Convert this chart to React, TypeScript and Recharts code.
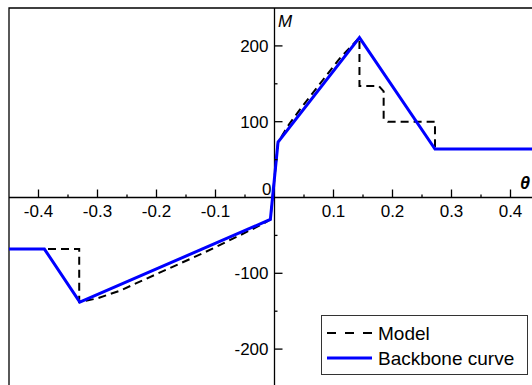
import React from 'react';
import { LineChart, Line, XAxis, YAxis, ReferenceLine, ReferenceArea, Legend } from 'recharts';

// Backbone curve (moment vs rotation)
const backboneTheta = [-0.45, -0.39, -0.33, -0.007, 0.006, 0.144, 0.272, 0.45];
const backboneM = [-68, -68, -138, -29, 73, 211, 64, 64];

// Model response
const modelTheta = [
  -0.45, -0.331, -0.331, -0.3, -0.262, -0.234, -0.18, -0.12, -0.059, -0.02, -0.007,
  0.006, 0.025, 0.045, 0.082, 0.11, 0.144, 0.144, 0.177, 0.185, 0.185, 0.192, 0.272, 0.272, 0.45,
];
const modelM = [
  -68, -68, -138, -133, -123, -113, -94, -73, -50, -35, -29,
  73, 97, 118, 155, 183, 211, 147, 147, 140, 104, 100, 100, 64, 64,
];

const seriesNames = ['Model', 'Backbone curve'];

const xTicks = [-0.4, -0.35, -0.3, -0.25, -0.2, -0.15, -0.1, -0.05, 0.05, 0.1, 0.15, 0.2, 0.25, 0.3, 0.35, 0.4];
const xLabels = ['-0.4', '-0.3', '-0.2', '-0.1', '0.1', '0.2', '0.3', '0.4'];
const yTicks = [-200, -150, -100, -50, 0, 50, 100, 150, 200];
const yLabels = ['-200', '-100', '0', '100', '200'];

const backboneData = backboneTheta.map((theta, i) => ({ theta, m: backboneM[i] }));
const modelData = modelTheta.map((theta, i) => ({ theta, m: modelM[i] }));

const W = 560;
const H = 400;
const AXIS_SIZE = 1;
const margin = { top: 8, right: 20, bottom: 12, left: 8 };
const plotW = W - margin.left - margin.right - AXIS_SIZE;
const plotH = H - margin.top - margin.bottom - AXIS_SIZE;
// axes cross at the origin, which sits in the middle of both domains
const zeroX = margin.left + AXIS_SIZE + plotW / 2;
const zeroY = margin.top + plotH / 2;

const FONT = '"Liberation Sans", Arial, sans-serif';

const XTick = (props: any) => {
  const { x, payload } = props;
  const v = payload.value;
  const label = xLabels.find((l) => Math.abs(parseFloat(l) - v) < 1e-6);
  return (
    <g>
      <line x1={x} x2={x} y1={zeroY} y2={zeroY - (label ? 8 : 3)} stroke="#000" strokeWidth={1.3} />
      {label && (
        <text x={x} y={zeroY + 19} textAnchor="middle" fontSize={17} fontFamily={FONT} fill="#000">
          {label}
        </text>
      )}
    </g>
  );
};

const YTick = (props: any) => {
  const { y, payload } = props;
  const v = payload.value;
  const label = yLabels.find((l) => parseFloat(l) === v);
  if (v === 0) {
    return (
      <text x={zeroX - 3} y={zeroY - 2.5} textAnchor="end" fontSize={17} fontFamily={FONT} fill="#000">
        0
      </text>
    );
  }
  return (
    <g>
      <line x1={zeroX} x2={zeroX + (label ? 8 : 3)} y1={y} y2={y} stroke="#000" strokeWidth={1.3} />
      {label && (
        <text x={zeroX - 6} y={y + 6} textAnchor="end" fontSize={17} fontFamily={FONT} fill="#000">
          {label}
        </text>
      )}
    </g>
  );
};

const renderLegend = (props: any) => {
  const items = [...(props.payload || [])].sort(
    (a: any, b: any) => seriesNames.indexOf(a.value) - seriesNames.indexOf(b.value)
  );
  return (
    <svg width={207} height={60} style={{ display: 'block' }}>
      <rect x={0.5} y={0.5} width={206} height={59} fill="#fff" stroke="#333" strokeWidth={1} />
      {items.map((entry: any, i: number) => {
        const cy = 18 + i * 25;
        const dashed = entry.payload && entry.payload.strokeDasharray;
        return (
          <g key={entry.value}>
            <line
              x1={6}
              x2={51}
              y1={cy}
              y2={cy}
              stroke={entry.color}
              strokeWidth={dashed ? 2 : 3}
              strokeDasharray={dashed ? '9 9' : undefined}
            />
            <text x={57} y={cy + 7} fontSize={19} fontFamily={FONT} fill="#000">
              {entry.value}
            </text>
          </g>
        );
      })}
    </svg>
  );
};

export default function App() {
  return (
    <div style={{ position: 'fixed', left: 0, top: 0, width: 532, height: 385, overflow: 'hidden', background: '#fff' }}>
      <LineChart width={W} height={H} margin={margin}>
        <XAxis
          type="number"
          dataKey="theta"
          domain={[-0.45, 0.45]}
          ticks={xTicks}
          interval={0}
          allowDataOverflow
          height={AXIS_SIZE}
          axisLine={false}
          tickLine={false}
          tick={<XTick />}
        />
        <YAxis
          type="number"
          dataKey="m"
          domain={[-250, 250]}
          ticks={yTicks}
          interval={0}
          allowDataOverflow
          width={AXIS_SIZE}
          axisLine={false}
          tickLine={false}
          tick={<YTick />}
        />
        <ReferenceArea x1={-0.45} x2={0.45} y1={-250} y2={250} fill="none" stroke="#000" strokeWidth={1.3} />
        <ReferenceLine y={0} stroke="#000" strokeWidth={1.3} />
        <ReferenceLine x={0} stroke="#000" strokeWidth={1.3} />
        <Line
          data={modelData}
          dataKey="m"
          name={seriesNames[0]}
          type="linear"
          stroke="#000"
          strokeWidth={2}
          strokeDasharray="8 5"
          dot={false}
          isAnimationActive={false}
        />
        <Line
          data={backboneData}
          dataKey="m"
          name={seriesNames[1]}
          type="linear"
          stroke="#0000ff"
          strokeWidth={3}
          dot={false}
          isAnimationActive={false}
        />
        <Legend
          layout="horizontal"
          verticalAlign="middle"
          align="center"
          content={renderLegend}
          wrapperStyle={{ position: 'absolute', left: 321, top: 315, width: 207, height: 60 }}
        />
        <text x={278} y={27} fontSize={17} fontStyle="italic" fontFamily={FONT} fill="#000">
          M
        </text>
        <text x={520} y={189} fontSize={18} fontStyle="italic" fontWeight="bold" fontFamily={FONT} fill="#000">
          θ
        </text>
      </LineChart>
    </div>
  );
}
